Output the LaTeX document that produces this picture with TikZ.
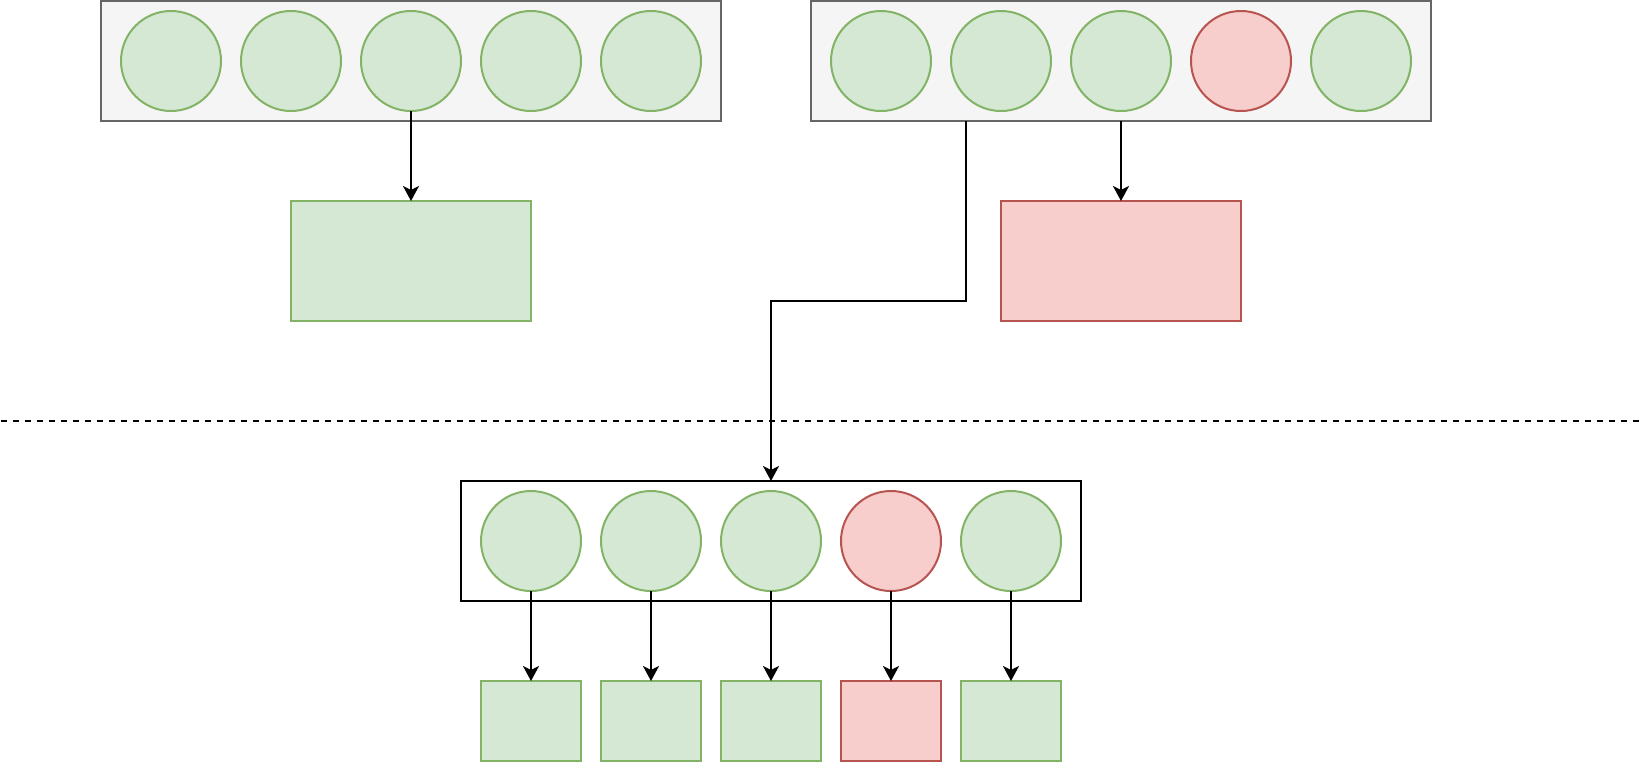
\documentclass[tikz,border=0pt]{standalone}
\usetikzlibrary{arrows.meta}
\definecolor{gfill}{HTML}{D5E8D4}
\definecolor{gline}{HTML}{82B366}
\definecolor{rfill}{HTML}{F8CECC}
\definecolor{rline}{HTML}{B85450}
\definecolor{cfill}{HTML}{F5F5F5}
\definecolor{cline}{HTML}{666666}
\begin{document}
\begin{tikzpicture}[x=1pt,y=-1pt,
  every node/.style={inner sep=0pt, outer sep=0pt, line width=1pt},
  cont/.style={rectangle, draw=cline, fill=cfill, minimum width=310pt, minimum height=60pt},
  plaincont/.style={rectangle, draw=black, fill=white, minimum width=310pt, minimum height=60pt},
  gcirc/.style={circle, draw=gline, fill=gfill, minimum size=50pt},
  rcirc/.style={circle, draw=rline, fill=rfill, minimum size=50pt},
  gbig/.style={rectangle, draw=gline, fill=gfill, minimum width=120pt, minimum height=60pt},
  rbig/.style={rectangle, draw=rline, fill=rfill, minimum width=120pt, minimum height=60pt},
  gsmall/.style={rectangle, draw=gline, fill=gfill, minimum width=50pt, minimum height=40pt},
  rsmall/.style={rectangle, draw=rline, fill=rfill, minimum width=50pt, minimum height=40pt},
  arr/.style={draw=black, line width=1pt, -{Stealth[length=7.5pt,width=8pt,inset=2pt]}},
  sep/.style={draw=black, line width=1pt, dash pattern=on 3pt off 3pt}]
\useasboundingbox (-0.5,-0.5) rectangle (821.5,380.5);

% top-left container
\node[cont] (TL) at (205,30) {};
\node[gcirc] (a1) at (85,30) {};
\node[gcirc] (a2) at (145,30) {};
\node[gcirc] (a3) at (205,30) {};
\node[gcirc] (a4) at (265,30) {};
\node[gcirc] (a5) at (325,30) {};

% top-right container
\node[cont] (TR) at (560,30) {};
\node[gcirc] (c1) at (440,30) {};
\node[gcirc] (c2) at (500,30) {};
\node[gcirc] (c3) at (560,30) {};
\node[rcirc] (c4) at (620,30) {};
\node[gcirc] (c5) at (680,30) {};

% result boxes
\node[gbig] (G) at (205,130) {};
\node[rbig] (R) at (560,130) {};

% separator
\coordinate (dl) at (0,210);
\coordinate (dr) at (820,210);
\draw[sep] (dl) -- (dr);

% bottom container
\node[plaincont] (B) at (385,270) {};
\node[gcirc] (b1) at (265,270) {};
\node[gcirc] (b2) at (325,270) {};
\node[gcirc] (b3) at (385,270) {};
\node[rcirc] (b4) at (445,270) {};
\node[gcirc] (b5) at (505,270) {};

\node[gsmall] (s1) at (265,360) {};
\node[gsmall] (s2) at (325,360) {};
\node[gsmall] (s3) at (385,360) {};
\node[rsmall] (s4) at (445,360) {};
\node[gsmall] (s5) at (505,360) {};

% connectors
\draw[arr] (a3.south) -- (G.north);
\draw[arr] (TR.south) -- (R.north);
\coordinate (mid) at (385,150);
\draw[arr] ([xshift=-77.5pt]TR.south) |- (mid) -- (B.north);
\draw[arr] (b1.south) -- (s1.north);
\draw[arr] (b2.south) -- (s2.north);
\draw[arr] (b3.south) -- (s3.north);
\draw[arr] (b4.south) -- (s4.north);
\draw[arr] (b5.south) -- (s5.north);
\end{tikzpicture}
\end{document}
